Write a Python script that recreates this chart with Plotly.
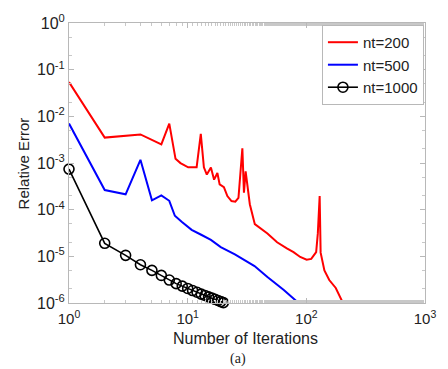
import plotly.graph_objects as go

# ---- data ----
red_x = [1, 2, 4, 6, 7, 7.9, 8.7, 10.1, 11.9, 12.9, 13.7, 14.5, 15.7, 16.7, 17.8, 18.6, 20.2,
         21.6, 23.4, 25.2, 26.8, 28.9, 29.8, 30.8, 33.4, 36.8, 47, 56.7, 68.5, 78, 88.8,
         100.6, 110, 121, 125, 129.5, 132, 142, 156, 177, 201, 206]
red_y = [0.054, 3.5e-3, 4.1e-3, 2.5e-3, 7.0e-3, 1.23e-3, 9.95e-4, 8.1e-4, 8.1e-4, 4.2e-3, 8.1e-4,
         5.65e-4, 8.0e-4, 4.4e-4, 6.1e-4, 3.47e-4, 3.04e-4, 1.96e-4, 1.53e-4, 1.48e-4, 1.8e-4,
         2.07e-3, 2.3e-4, 6.6e-4, 1.31e-4, 4.9e-5, 3.1e-5, 2.0e-5, 1.48e-5, 1.23e-5, 9.7e-6,
         8.5e-6, 8.8e-6, 1.23e-5, 3.1e-5, 1.96e-4, 1.2e-5, 5.0e-6, 3.1e-6, 2.1e-6, 1.07e-6, 9.0e-7]

blue_x = [1, 2, 3, 4, 5, 6, 7, 7.8, 8.9, 10.8, 13, 15.7, 19, 25, 36.6, 47, 64.6, 88]
blue_y = [7.0e-3, 2.63e-4, 2.13e-4, 1.17e-3, 1.59e-4, 2.03e-4, 1.55e-4, 7.4e-5, 5.5e-5, 3.7e-5,
          2.9e-5, 2.25e-5, 1.58e-5, 1.1e-5, 6.2e-6, 3.6e-6, 1.9e-6, 9.5e-7]

black_x = list(range(1, 21))
black_y = [7.4e-4, 1.9e-5, 1.05e-5, 6.6e-6, 5.0e-6, 3.9e-6, 3.1e-6, 2.6e-6, 2.3e-6, 2.05e-6,
           1.85e-6, 1.7e-6, 1.55e-6, 1.45e-6, 1.35e-6, 1.27e-6, 1.2e-6, 1.13e-6, 1.07e-6, 1.02e-6]

series_names = ["nt=200", "nt=500", "nt=1000"]

x_tickvals = [1, 10, 100, 1000]
x_ticktext = ["10<sup>0</sup>", "10<sup>1</sup>", "10<sup>2</sup>", "10<sup>3</sup>"]
y_tickvals = [1e-6, 1e-5, 1e-4, 1e-3, 1e-2, 1e-1, 1]
y_ticktext = ["10<sup>-6</sup>", "10<sup>-5</sup>", "10<sup>-4</sup>", "10<sup>-3</sup>",
              "10<sup>-2</sup>", "10<sup>-1</sup>", "10<sup>0</sup>"]

FONT = "Arial, Liberation Sans, sans-serif"

fig = go.Figure()
fig.add_trace(go.Scatter(x=red_x, y=red_y, mode="lines", name=series_names[0],
                         line=dict(color="#ff0000", width=2)))
fig.add_trace(go.Scatter(x=blue_x, y=blue_y, mode="lines", name=series_names[1],
                         line=dict(color="#0000ff", width=2)))
fig.add_trace(go.Scatter(x=black_x, y=black_y, mode="lines+markers", name=series_names[2],
                         line=dict(color="#000000", width=1.6),
                         marker=dict(symbol="circle-open", size=10, color="#000000",
                                     line=dict(width=1.6)),
                         cliponaxis=False))

axis_common = dict(
    type="log", showgrid=False, zeroline=False,
    showline=True, linecolor="#b8b8b8", linewidth=1, mirror="allticks",
    ticks="inside", ticklen=5, tickcolor="#b8b8b8",
    minor=dict(ticks="inside", ticklen=3, tickcolor="#c8c8c8", showgrid=False),
)

fig.update_xaxes(range=[0, 3], tickvals=x_tickvals, ticktext=x_ticktext,
                 ticklabelstandoff=2, tickfont=dict(family=FONT, size=15, color="#222"),
                 **axis_common)
fig.update_yaxes(range=[-6, 0], tickvals=y_tickvals, ticktext=y_ticktext,
                 tickfont=dict(family=FONT, size=16, color="#222"), **axis_common)

fig.update_layout(
    width=448, height=369,
    margin=dict(l=69, r=13, t=20, b=66),
    paper_bgcolor="white", plot_bgcolor="white",
    font=dict(family=FONT, size=15, color="#222"),
    legend=dict(x=0.997, y=0.993, xanchor="right", yanchor="top",
                bgcolor="white", bordercolor="#b8b8b8", borderwidth=1,
                font=dict(family=FONT, size=15, color="#222"),
                tracegroupgap=0),
    annotations=[
        dict(text="Number of Iterations", x=0.495, y=-0.127, xref="paper", yref="paper",
             showarrow=False, xanchor="center", yanchor="middle",
             font=dict(family=FONT, size=16, color="#222")),
        dict(text="Relative Error", x=-0.128, y=0.5, xref="paper", yref="paper",
             showarrow=False, textangle=-90, xanchor="center", yanchor="middle",
             font=dict(family=FONT, size=15, color="#222")),
        dict(text="(a)", x=0.475, y=-0.201, xref="paper", yref="paper",
             showarrow=False, xanchor="center", yanchor="middle",
             font=dict(family="Times New Roman, Liberation Serif, serif", size=14, color="#222")),
    ],
)

fig.write_html("out.html")
